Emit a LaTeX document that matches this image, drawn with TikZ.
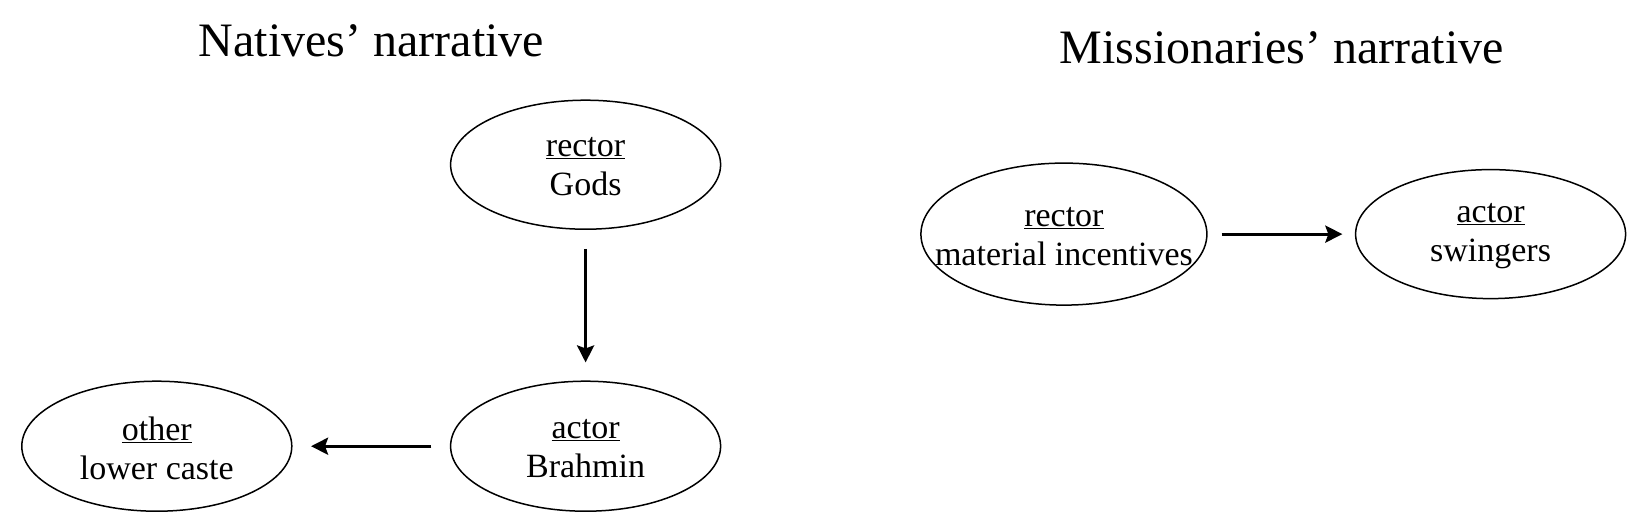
\documentclass[tikz,border=0pt]{standalone}
\usepackage{fontspec}
\setmainfont{Liberation Serif}
\usetikzlibrary{shapes.geometric,arrows.meta}
\tikzset{
  ell/.style={draw, line width=1.5pt, ellipse, inner sep=0pt},
  lbl/.style={align=center, inner sep=0pt, yshift=-2pt,
    font=\fontsize{34}{39}\selectfont},
  title/.style={font=\fontsize{48}{52}\selectfont, anchor=base},
  conn/.style={line width=3.2pt, -{Stealth[length=17pt,width=17pt,inset=3pt]}}
}
\begin{document}
\begin{tikzpicture}[x=1pt,y=-1pt]
\useasboundingbox (0,0) rectangle (1650,528);
\node[title] (t1) at (371.5,56) {Natives’ narrative};
\node[title] (t2) at (1281.7,63) {Missionaries’ narrative};
\node[ell, minimum width=270pt, minimum height=129pt] (gods) at (585.6,164.7) {};
\node[ell, minimum width=270pt, minimum height=130pt] (brahmin) at (585.6,446.2) {};
\node[ell, minimum width=270pt, minimum height=130pt] (lower) at (156.8,446.2) {};
\node[ell, minimum width=286pt, minimum height=142pt] (mat) at (1063.9,234.1) {};
\node[ell, minimum width=270pt, minimum height=129pt] (swing) at (1490.6,234.1) {};
\node[lbl] (godsT) at (gods) {\underline{rector}\\Gods};
\node[lbl] (brahminT) at (brahmin) {\underline{actor}\\Brahmin};
\node[lbl] (lowerT) at (lower) {\underline{other}\\lower caste};
\node[lbl] (matT) at (mat) {\underline{rector}\\material incentives};
\node[lbl] (swingT) at (swing) {\underline{actor}\\swingers};
\draw[conn, shorten <=19pt, shorten >=18pt] (gods) -- (brahmin);
\draw[conn, shorten <=18.5pt, shorten >=18.5pt] (brahmin) -- (lower);
\draw[conn, shorten <=14pt, shorten >=12.5pt] (mat) -- (swing);
\end{tikzpicture}
\end{document}
